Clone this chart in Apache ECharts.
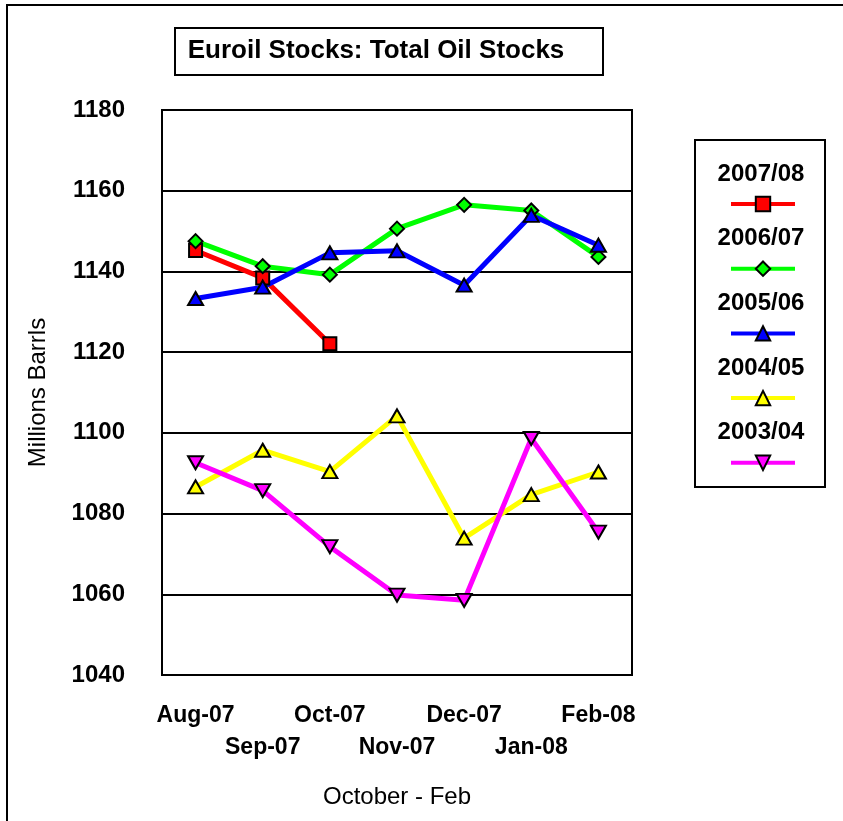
<!DOCTYPE html>
<html>
<head>
<meta charset="utf-8">
<script src="https://cdn.jsdelivr.net/npm/echarts@6/dist/echarts.min.js"></script>
<style>
  html, body { margin: 0; padding: 0; background: #fff; }
  #chart { width: 843px; height: 821px; }
</style>
</head>
<body>
<div id="chart"></div>
<script>
// categories and values
const months = ["Aug-07", "Sep-07", "Oct-07", "Nov-07", "Dec-07", "Jan-08", "Feb-08"];
const seriesNames = ["2007/08", "2006/07", "2005/06", "2004/05", "2003/04"];
const y0708 = [1145.2, 1138.4, 1122.1, null, null, null, null];
const y0607 = [1147.5, 1141.3, 1139.2, 1150.6, 1156.5, 1155.1, 1143.6];
const y0506 = [1133.3, 1136.1, 1144.6, 1145.1, 1136.6, 1153.9, 1146.5];
const y0405 = [1086.6, 1095.7, 1090.4, 1104.2, 1073.9, 1084.7, 1090.3];
const y0304 = [1092.6, 1085.7, 1071.8, 1059.8, 1058.5, 1098.6, 1075.4];
const yTicks = { min: 1040, max: 1180, step: 20 };

const FONT = '"Liberation Sans", Arial, sans-serif';

const chart = echarts.init(document.getElementById("chart"));

// one line series
function mkLine(name, data, color, symbol, size, rotate) {
  return {
    name: name,
    type: "line",
    data: data,
    symbol: symbol,
    symbolSize: size,
    symbolRotate: rotate || 0,
    showSymbol: true,
    connectNulls: false,
    animation: false,
    lineStyle: { color: color, width: 5 },
    itemStyle: { color: color, borderColor: "#000", borderWidth: 2 }
  };
}

const series = [
  mkLine(seriesNames[0], y0708, "#ff0000", "rect", 13),
  mkLine(seriesNames[1], y0607, "#00ff00", "diamond", 14),
  mkLine(seriesNames[2], y0506, "#0000ff", "triangle", [15, 13]),
  mkLine(seriesNames[3], y0405, "#ffff00", "triangle", [15, 13]),
  mkLine(seriesNames[4], y0304, "#ff00ff", "triangle", [15, 13], 180)
];

// legend: one per item, label text drawn above the sample
const legends = seriesNames.map((n, i) => ({
  data: [n],
  left: 729,
  top: 195 + i * 64.7,
  itemWidth: 64,
  itemHeight: 18,
  padding: 0,
  selectedMode: false,
  formatter: () => "",
  textStyle: { fontSize: 1 },
  lineStyle: { width: 4 },
  itemStyle: { borderWidth: 2, borderColor: "#000" }
}));

const legendTexts = seriesNames.map((n, i) => ({
  type: "text",
  style: {
    text: n,
    x: 761,
    y: 174 + i * 64.7,
    textAlign: "center",
    textVerticalAlign: "middle",
    fontFamily: FONT,
    fontWeight: "bold",
    fontSize: 24,
    fill: "#000"
  }
}));

const option = {
  backgroundColor: "#fff",
  animation: false,
  grid: {
    left: 162,
    top: 110,
    right: 211,
    bottom: 146,
    show: true,
    borderColor: "#000",
    borderWidth: 2
  },
  legend: legends,
  xAxis: {
    type: "category",
    data: months,
    boundaryGap: true,
    axisLine: { lineStyle: { color: "#000", width: 2 } },
    axisTick: { show: false },
    axisLabel: {
      interval: 0,
      margin: 25,
      color: "#000",
      fontFamily: FONT,
      fontWeight: "bold",
      fontSize: 23,
      lineHeight: 32,
      formatter: (v, i) => (i % 2 ? "\n" + v : v)
    },
    name: "October - Feb",
    nameLocation: "middle",
    nameGap: 110,
    nameTextStyle: { color: "#000", fontFamily: FONT, fontSize: 24 }
  },
  yAxis: {
    type: "value",
    min: yTicks.min,
    max: yTicks.max,
    interval: yTicks.step,
    axisLine: { show: true, lineStyle: { color: "#000", width: 2 } },
    axisTick: { show: false },
    splitLine: { lineStyle: { color: "#000", width: 2 } },
    axisLabel: {
      margin: 37,
      color: "#000",
      fontFamily: FONT,
      fontWeight: "bold",
      fontSize: 24,
      formatter: (v) => String(v)
    },
    name: "Millions Barrls",
    nameLocation: "middle",
    nameRotate: 90,
    nameGap: 112,
    nameTextStyle: { color: "#000", fontFamily: FONT, fontSize: 24 }
  },
  graphic: [
    // outer frame (only left/top visible)
    { type: "rect", shape: { x: 7, y: 5, width: 900, height: 900 }, style: { fill: null, stroke: "#000", lineWidth: 2 }, silent: true },
    // title box
    { type: "rect", shape: { x: 175, y: 28, width: 428, height: 47 }, style: { fill: "#fff", stroke: "#000", lineWidth: 2 } },
    {
      type: "text",
      style: {
        text: "Euroil Stocks: Total Oil Stocks",
        x: 376, y: 51,
        textAlign: "center", textVerticalAlign: "middle",
        fontFamily: FONT, fontWeight: "bold", fontSize: 26, fill: "#000"
      }
    },
    // legend box
    { type: "rect", shape: { x: 695, y: 140, width: 130, height: 347 }, style: { fill: null, stroke: "#000", lineWidth: 2 } }
  ].concat(legendTexts),
  series: series
};

chart.setOption(option);
</script>
</body>
</html>
